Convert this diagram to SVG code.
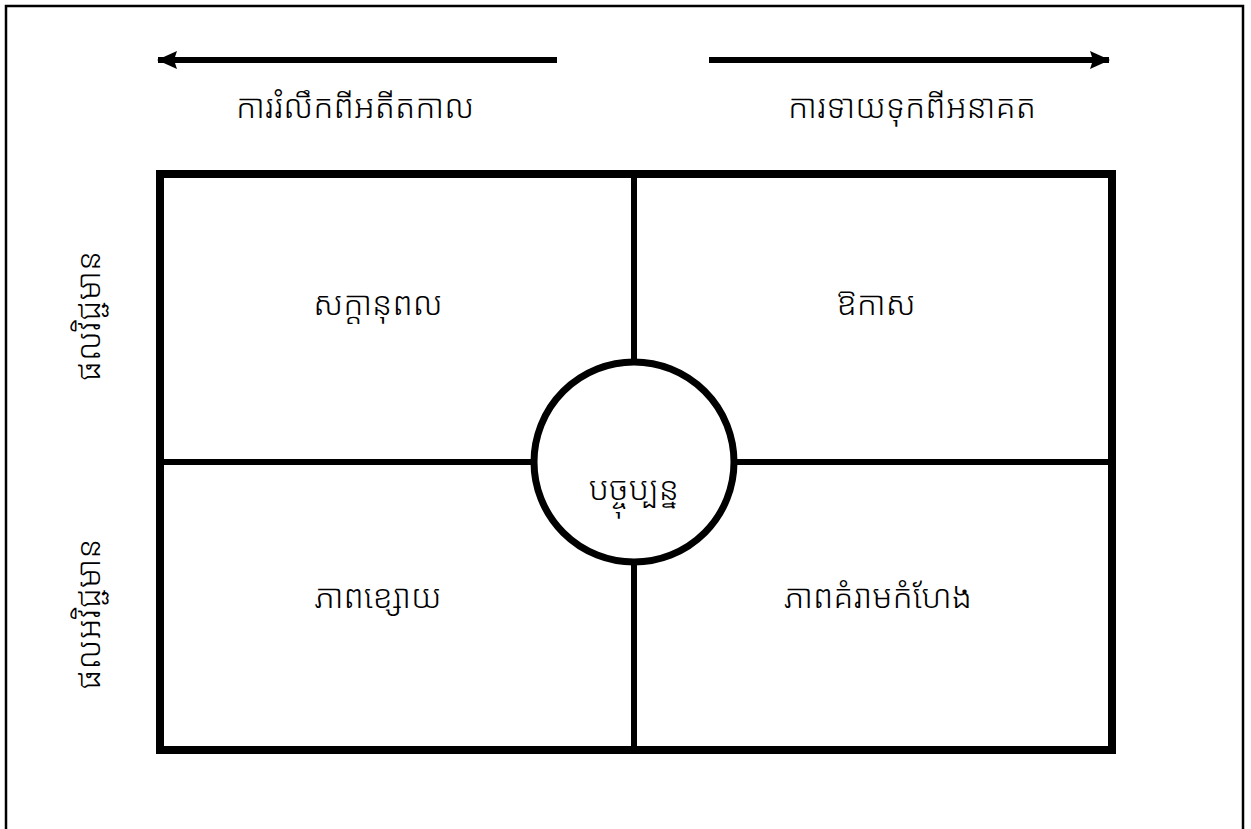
<svg xmlns="http://www.w3.org/2000/svg" width="1251" height="829" viewBox="0 0 1251 829">
<style>
.t{font-family:"Noto Sans Khmer","Khmer OS","Noto Sans","DejaVu Sans",sans-serif;font-size:33px;font-weight:300;fill:#000;text-anchor:middle}
.grid{fill:none;stroke:#000;stroke-width:8}
.div{stroke:#000;stroke-width:6}
.arr{stroke:#000;stroke-width:6}
</style>
<defs>
<marker id="ah" viewBox="0 0 20 20" refX="19" refY="10" markerWidth="20" markerHeight="20" orient="auto" markerUnits="userSpaceOnUse">
<path d="M0,1 L20,10 L0,19 L3,10 Z" fill="#000"/>
</marker>
</defs>
<rect x="0" y="0" width="1251" height="829" fill="#fff"/>
<rect id="frame" x="6" y="6" width="1237" height="840" fill="none" stroke="#000" stroke-width="2.5"/>
<g id="connectors">
<line class="arr" x1="557" y1="60" x2="158" y2="60" marker-end="url(#ah)"/>
<line class="arr" x1="709" y1="60" x2="1109" y2="60" marker-end="url(#ah)"/>
<line class="div" x1="634" y1="174" x2="634" y2="365"/>
<line class="div" x1="634" y1="559" x2="634" y2="750"/>
<line class="div" x1="160" y1="462" x2="537" y2="462"/>
<line class="div" x1="731" y1="462" x2="1112" y2="462"/>
</g>
<g id="grid"><rect class="grid" x="160" y="174" width="952" height="576"/></g>
<g id="label-past"><text class="t" x="355" y="118">ការរំលឹកពីអតីតកាល</text></g>
<g id="label-future"><text class="t" x="912" y="118">ការទាយទុកពីអនាគត</text></g>
<g id="label-positive"><text class="t" transform="translate(100,316) rotate(-90)">ផលវិជ្ជមាន</text></g>
<g id="label-negative"><text class="t" transform="translate(100,614) rotate(-90)">ផលអវិជ្ជមាន</text></g>
<g id="cell-strengths"><text class="t" x="378" y="315">សក្តានុពល</text></g>
<g id="cell-opportunities"><text class="t" x="876" y="315">ឱកាស</text></g>
<g id="cell-weaknesses"><text class="t" x="378" y="608">ភាពខ្សោយ</text></g>
<g id="cell-threats"><text class="t" x="878" y="608">ភាពគំរាមកំហែង</text></g>
<g id="center"><circle cx="634" cy="462" r="100" fill="#fff" stroke="#000" stroke-width="7"/><text class="t" x="634" y="500">បច្ចុប្បន្ន</text></g>
</svg>
